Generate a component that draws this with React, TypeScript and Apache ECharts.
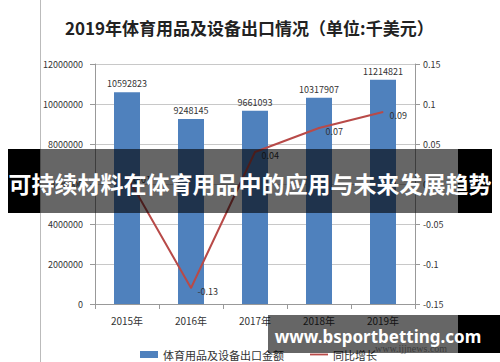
import React, { useEffect, useRef } from "react";
import * as echarts from "echarts";

const categories = ["2015年", "2016年", "2017年", "2018年", "2019年"];
const exportValues = [10592823, 9248145, 9661093, 10317907, 11214821];
const growthValues = [0.01, -0.13, 0.04, 0.07, 0.09];
const barName = "体育用品及设备出口金额";
const lineName = "同比增长";
const titleText = "2019年体育用品及设备出口情况（单位:千美元）";
const bannerText = "可持续材料在体育用品中的应用与未来发展趋势";
const watermarkText = "www.bsportbetting.com";

const FONT = '"Noto Sans CJK SC", "Noto Sans", sans-serif';

export default function App() {
  const ref = useRef<HTMLDivElement>(null);
  useEffect(() => {
    document.body.style.margin = "0";
    const chart = echarts.init(ref.current!, null, { renderer: "svg" });
    chart.setOption({
      animation: false,
      backgroundColor: "#fff",
      textStyle: { fontFamily: FONT },
      title: {
        text: titleText,
        left: 60,
        top: 14,
        textStyle: { fontSize: 17, fontWeight: "bold", color: "#222", fontFamily: FONT },
      },
      grid: { left: 95, right: 85, top: 64, bottom: 58 },
      legend: {
        left: 135,
        top: 344,
        itemGap: 26,
        itemWidth: 18,
        itemHeight: 7,
        textStyle: { fontSize: 11, color: "#333", fontFamily: FONT },
        data: [
          { name: barName, icon: "rect" },
          { name: lineName, icon: "path://M0,3 L20,3 L20,5 L0,5 Z" },
        ],
      },
      xAxis: {
        type: "category",
        data: categories,
        axisLine: { lineStyle: { color: "#999" } },
        axisTick: { show: true, length: 5, lineStyle: { color: "#999" } },
        axisLabel: { fontSize: 10, color: "#333", margin: 11 },
      },
      yAxis: [
        {
          type: "value",
          min: 0,
          max: 12000000,
          interval: 2000000,
          axisLine: { show: true, lineStyle: { color: "#999" } },
          axisTick: { show: true, length: 5, lineStyle: { color: "#999" } },
          axisLabel: { fontSize: 9, color: "#333", margin: 12, formatter: (v: number) => String(v) },
          splitLine: { lineStyle: { color: "#c8c8c8" } },
        },
        {
          type: "value",
          min: -0.15,
          max: 0.15,
          interval: 0.05,
          axisLine: { show: true, lineStyle: { color: "#999" } },
          axisTick: { show: true, length: 5, lineStyle: { color: "#999" } },
          axisLabel: {
            fontSize: 9,
            color: "#333",
            margin: 8,
            formatter: (v: number) => String(Math.round(v * 100) / 100),
          },
          splitLine: { show: false },
        },
      ],
      series: [
        {
          name: barName,
          type: "bar",
          data: exportValues,
          barWidth: 26,
          itemStyle: { color: "#4f81bd" },
          label: { show: true, position: "top", distance: 4, fontSize: 9, color: "#333" },
          z: 2,
        },
        {
          name: lineName,
          type: "line",
          yAxisIndex: 1,
          data: growthValues,
          symbol: "circle",
          symbolSize: 1,
          itemStyle: { color: "#b84a48" },
          lineStyle: { color: "#b84a48", width: 2 },
          label: { show: true, position: "right", distance: 6, offset: [0, 3], fontSize: 9, color: "#333" },
          z: 3,
        },
      ],
      graphic: [
        { type: "line", shape: { x1: 40.5, y1: 0, x2: 40.5, y2: 362 }, style: { stroke: "#bbb", lineWidth: 1 }, z: 10 },
        { type: "rect", shape: { x: 8, y: 149, width: 32, height: 64 }, style: { fill: "#000" }, z: 20 },
        { type: "rect", shape: { x: 40, y: 149, width: 418, height: 64 }, style: { fill: "rgba(0,0,0,0.6)" }, z: 20 },
        { type: "rect", shape: { x: 458, y: 149, width: 34, height: 64 }, style: { fill: "#000" }, z: 20 },
        {
          type: "text",
          x: 250,
          y: 183,
          style: {
            text: bannerText,
            fill: "#fff",
            font: 'bold 23px "Noto Sans CJK SC", sans-serif',
            textAlign: "center",
            textVerticalAlign: "middle",
          },
          z: 21,
        },
        {
          type: "text",
          x: 375,
          y: 348,
          style: {
            text: "www.ijjnews.com",
            fill: "#999",
            font: '10px "Liberation Serif", serif',
            textAlign: "left",
            textVerticalAlign: "middle",
          },
          z: 15,
        },
        { type: "rect", shape: { x: 268, y: 315, width: 190, height: 38 }, style: { fill: "rgba(0,0,0,0.6)" }, z: 20 },
        { type: "rect", shape: { x: 458, y: 315, width: 42, height: 38 }, style: { fill: "#000" }, z: 20 },
        {
          type: "text",
          x: 378,
          y: 336,
          style: {
            text: watermarkText,
            fill: "#fff",
            font: 'bold 17px "Noto Sans", sans-serif',
            textAlign: "center",
            textVerticalAlign: "middle",
          },
          z: 21,
        },
      ],
    });
    return () => chart.dispose();
  }, []);
  return <div ref={ref} style={{ width: 500, height: 362 }} />;
}
